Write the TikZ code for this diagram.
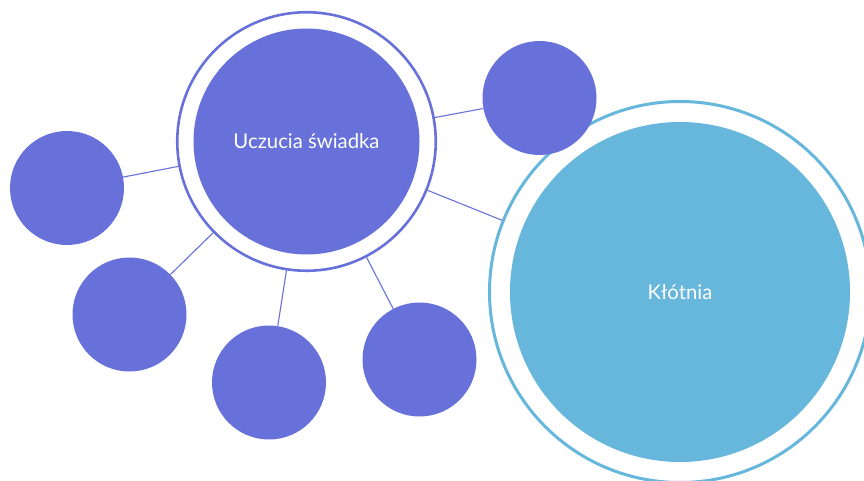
\documentclass[tikz,border=0pt]{standalone}
\usepackage{fontspec}
\setmainfont{Lato}
\usepackage{tikz}
\definecolor{bubblepurple}{HTML}{6771D9}
\definecolor{bubbleblue}{HTML}{67B6DB}

\begin{document}
\begin{tikzpicture}[x=1pt,y=-1pt,
	bubble/.style={circle, fill=bubblepurple, inner sep=0pt, minimum size=114pt},
	ring/.style={circle, draw=#1, line width=2.6pt, inner sep=0pt},
	link/.style={draw=bubblepurple, line width=1.1pt},
	bubbletext/.style={text=white, font=\fontsize{20.3}{24}\selectfont}]
	\useasboundingbox (0,0) rectangle (864,481);
	\clip (0,0) rectangle (864,481);
	% Klotnia
	\node[ring=bubbleblue, line width=3pt, minimum size=381pt] (fightring) at (680,292) {};
	\node[circle, fill=bubbleblue, inner sep=0pt, minimum size=340pt, bubbletext] (fight) at (680,292) {Kłótnia};
	% centre
	\node[ring=bubblepurple, minimum size=258.5pt] (feelring) at (306.5,141.5) {};
	\node[circle, fill=bubblepurple, inner sep=0pt, minimum size=226pt, bubbletext] (feel) at (306.5,141.5) {Uczucia świadka};
	% small ones
	\node[bubble] (b1) at (67,188) {};
	\node[bubble] (b2) at (129.5,314.5) {};
	\node[bubble] (b3) at (269,382.5) {};
	\node[bubble] (b4) at (419.5,359.5) {};
	\node[bubble] (b5) at (539.5,98) {};
	\draw[link] (b1) -- (feelring);
	\draw[link] (b2) -- (feelring);
	\draw[link] (b3) -- (feelring);
	\draw[link] (b4) -- (feelring);
	\draw[link] (b5) -- (feelring);
	\draw[link] (feelring) -- (fightring);
\end{tikzpicture}
\end{document}
